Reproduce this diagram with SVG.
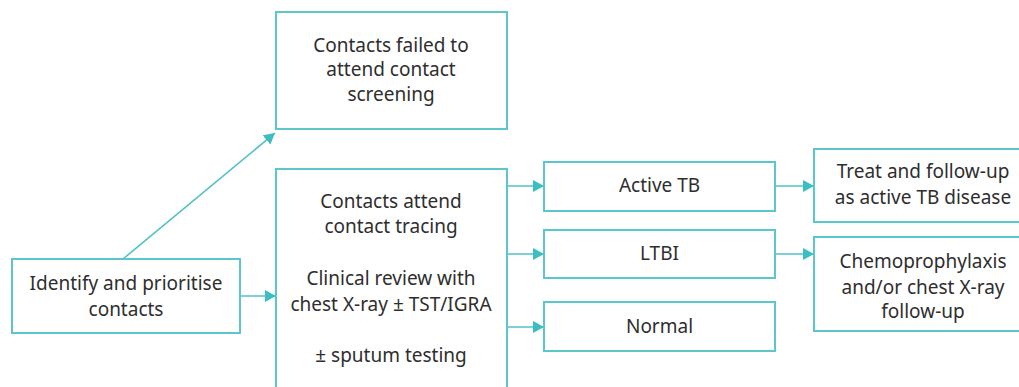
<svg xmlns="http://www.w3.org/2000/svg" width="1019" height="387" viewBox="0 0 1019 387">
<style>
.box{fill:#fff;stroke:#5cc7cb;stroke-width:2}
.con{stroke:#4fc2c7;stroke-width:1.6;fill:none}
text{font-family:"Noto Sans","Open Sans",sans-serif;font-size:19px;fill:#2e2e2e;text-anchor:middle}
</style>
<defs>
<marker id="ah" markerUnits="userSpaceOnUse" markerWidth="12" markerHeight="12" refX="11" refY="6" orient="auto">
<path d="M0,0 L11,6 L0,12 z" fill="#3bbdc2"/>
</marker>
</defs>
<rect width="1019" height="387" fill="#fff"/>
<g id="connectors">
<line class="con" x1="240" y1="296" x2="276" y2="296" marker-end="url(#ah)"/>
<line class="con" x1="123" y1="259" x2="275" y2="133" marker-end="url(#ah)"/>
<line class="con" x1="507" y1="186" x2="544" y2="186" marker-end="url(#ah)"/>
<line class="con" x1="507" y1="254" x2="544" y2="254" marker-end="url(#ah)"/>
<line class="con" x1="507" y1="327" x2="544" y2="327" marker-end="url(#ah)"/>
<line class="con" x1="775" y1="186" x2="814" y2="186" marker-end="url(#ah)"/>
<line class="con" x1="775" y1="254" x2="814" y2="254" marker-end="url(#ah)"/>
</g>
<g id="identify">
<rect class="box" x="12" y="259" width="228" height="74"/>
<text x="126" y="290">Identify and prioritise</text>
<text x="126" y="316">contacts</text>
</g>
<g id="failed">
<rect class="box" x="276" y="12" width="231" height="117"/>
<text x="391" y="52">Contacts failed to</text>
<text x="391" y="76">attend contact</text>
<text x="391" y="101">screening</text>
</g>
<g id="attend">
<rect class="box" x="276" y="169" width="231" height="240"/>
<text x="391" y="208">Contacts attend</text>
<text x="391" y="233">contact tracing</text>
<text x="391" y="285">Clinical review with</text>
<text x="391" y="311">chest X-ray ± TST/IGRA</text>
<text x="391" y="362">± sputum testing</text>
</g>
<g id="active">
<rect class="box" x="544" y="162" width="231" height="49"/>
<text x="659.5" y="192">Active TB</text>
</g>
<g id="ltbi">
<rect class="box" x="544" y="230" width="231" height="48"/>
<text x="659.5" y="260">LTBI</text>
</g>
<g id="normal">
<rect class="box" x="544" y="302" width="231" height="49"/>
<text x="659.5" y="333">Normal</text>
</g>
<g id="treat">
<rect class="box" x="814" y="149" width="220" height="73"/>
<text x="923" y="178">Treat and follow-up</text>
<text x="923" y="204">as active TB disease</text>
</g>
<g id="chemo">
<rect class="box" x="814" y="237" width="220" height="94"/>
<text x="923" y="268">Chemoprophylaxis</text>
<text x="923" y="294">and/or chest X-ray</text>
<text x="923" y="318">follow-up</text>
</g>
</svg>
